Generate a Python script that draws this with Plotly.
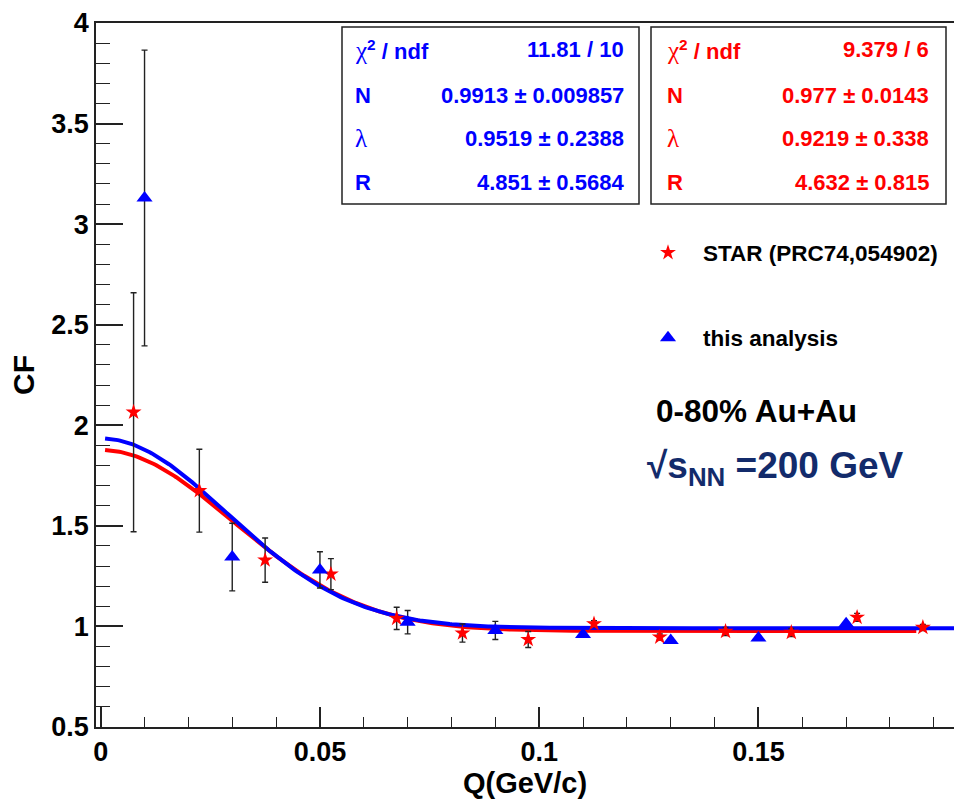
import numpy as np
import plotly.graph_objects as go

# ---- data -------------------------------------------------------------
# STAR (PRC74,054902)
star_q = [0.0075, 0.0225, 0.0375, 0.0525, 0.0675, 0.0825, 0.0975,
          0.1125, 0.1275, 0.1425, 0.1575, 0.1725, 0.1875]
star_cf = [2.065, 1.675, 1.330, 1.260, 1.040, 0.967, 0.935,
           1.013, 0.947, 0.975, 0.970, 1.045, 0.995]
star_err = [0.594, 0.206, 0.110, 0.077, 0.055, 0.045, 0.040,
            0.015, 0.015, 0.020, 0.020, 0.020, 0.015]

# this analysis
ana_q = [0.01, 0.03, 0.05, 0.07, 0.09, 0.11, 0.13, 0.15, 0.17]
ana_cf = [3.13, 1.345, 1.281, 1.021, 0.980, 0.960, 0.930, 0.942, 1.013]
ana_err = [0.735, 0.168, 0.090, 0.058, 0.045, 0.010, 0.010, 0.010, 0.010]

# fit parameters: CF = N * (1 + lambda * exp(-Q^2 R^2 / (hbar c)^2))
ana_fit = dict(chi2="11.81 / 10", N=0.9913, dN="0.009857",
               lam=0.9519, dlam="0.2388", R=4.851, dR="0.5684")
star_fit = dict(chi2="9.379 / 6", N=0.977, dN="0.0143",
                lam=0.9219, dlam="0.338", R=4.632, dR="0.815")
ana_fit_range = (0.001, 0.1946)
star_fit_range = (0.001, 0.186)

x_ticks = [0, 0.05, 0.1, 0.15]
x_ticktext = ["0", "0.05", "0.1", "0.15"]
y_ticks = [0.5, 1, 1.5, 2, 2.5, 3, 3.5, 4]
y_ticktext = ["0.5", "1", "1.5", "2", "2.5", "3", "3.5", "4"]

HBARC = 0.19733  # GeV fm

RED = "#ff0000"
BLUE = "#0000ff"
NAVY = "#132b6b"
FONT = "Liberation Sans, Arial, sans-serif"
SERIF = "Liberation Serif, Times New Roman, serif"


def cf_fit(q, p):
    q = np.asarray(q)
    return p["N"] * (1 + p["lam"] * np.exp(-(q * p["R"] / HBARC) ** 2))


# ---- frame geometry (pixels) -----------------------------------------
W, H = 954, 799
L, T, B = 96, 23, 727


def px(x):
    return (x - L) / (W - L)


def py(y):
    return (B - y) / (B - T)


fig = go.Figure()

# fit curves
for p, rng, col in [(star_fit, star_fit_range, RED), (ana_fit, ana_fit_range, BLUE)]:
    qq = np.linspace(rng[0], rng[1], 400)
    fig.add_trace(go.Scatter(x=qq, y=cf_fit(qq, p), mode="lines",
                             line=dict(color=col, width=4),
                             showlegend=False, hoverinfo="skip"))

# data points
fig.add_trace(go.Scatter(
    x=star_q, y=star_cf, mode="markers", name="STAR (PRC74,054902)",
    marker=dict(symbol="star", size=12, color=RED, line=dict(width=0)),
    error_y=dict(type="data", array=star_err, color="#222222", thickness=1.4, width=3),
    legend="legend"))
fig.add_trace(go.Scatter(
    x=ana_q, y=ana_cf, mode="markers", name="this analysis",
    marker=dict(symbol="triangle-up", size=14, color=BLUE, line=dict(width=0)),
    error_y=dict(type="data", array=ana_err, color="#222222", thickness=1.4, width=3),
    legend="legend2"))

# ---- fit statistics boxes --------------------------------------------
shapes = []
annotations = []


def stat_box(p, col, x0, x1, xl, xr):
    shapes.append(dict(type="rect", xref="paper", yref="paper",
                       x0=px(x0), x1=px(x1), y0=py(204), y1=py(27),
                       line=dict(color="#222222", width=1.5), fillcolor="white",
                       layer="above"))
    rows = [
        (f"<span style='font-family:{SERIF};font-size:25px'>χ</span><b><sup>2</sup> / ndf</b>",
         f"<b>{p['chi2']}</b>"),
        ("<b>N</b>", f"<b>{p['N']:g} ± {p['dN']}</b>"),
        (f"<span style='font-family:{SERIF};font-size:25px'>λ</span>",
         f"<b>{p['lam']:g} ± {p['dlam']}</b>"),
        ("<b>R</b>", f"<b>{p['R']:g} ± {p['dR']}</b>"),
    ]
    for (lt, rt), yy in zip(rows, [50, 95, 138, 182]):
        annotations.append(dict(xref="paper", yref="paper", x=px(xl), y=py(yy),
                                text=lt, showarrow=False, xanchor="left",
                                yanchor="middle",
                                font=dict(family=FONT, size=22, color=col)))
        annotations.append(dict(xref="paper", yref="paper", x=px(xr), y=py(yy),
                                text=rt, showarrow=False, xanchor="right",
                                yanchor="middle",
                                font=dict(family=FONT, size=22, color=col)))


stat_box(ana_fit, BLUE, 342, 639, 353, 626)
stat_box(star_fit, RED, 651, 946, 665, 931)

annotations.append(dict(xref="paper", yref="paper", x=px(654), y=py(411),
                        text="<b>0-80% Au+Au</b>", showarrow=False,
                        xanchor="left", yanchor="middle",
                        font=dict(family=FONT, size=31.5, color="black")))
annotations.append(dict(xref="paper", yref="paper", x=px(645), y=py(468),
                        text="<b>√s<sub>NN</sub> =200 GeV</b>", showarrow=False,
                        xanchor="left", yanchor="middle",
                        font=dict(family=FONT, size=37, color=NAVY)))

axis_common = dict(showgrid=False, zeroline=False, showline=True,
                   linecolor="#222222", linewidth=1.5, ticks="inside",
                   tickcolor="#222222", tickwidth=1.5,
                   tickfont=dict(family=FONT, size=27, color="black", weight="bold"))

fig.update_layout(
    width=W, height=H,
    margin=dict(l=L, r=0, t=T, b=H - B, pad=0),
    paper_bgcolor="white", plot_bgcolor="white",
    shapes=shapes, annotations=annotations,
    xaxis=dict(range=[-0.00107, 0.1946], tickvals=x_ticks, ticktext=x_ticktext,
               ticklen=20, mirror=True,
               minor=dict(dtick=0.01, tick0=0, ticklen=10, ticks="inside",
                          tickcolor="#222222", tickwidth=1.2),
               title=dict(text="Q(GeV/c)", standoff=5,
                          font=dict(family=FONT, size=29, color="black", weight="bold")),
               **axis_common),
    yaxis=dict(range=[0.5, 4], tickvals=y_ticks, ticktext=y_ticktext,
               ticklen=27,
               minor=dict(dtick=0.1, tick0=0.5, ticklen=14, ticks="inside",
                          tickcolor="#222222", tickwidth=1.2),
               title=dict(text="CF", standoff=8,
                          font=dict(family=FONT, size=30, color="black", weight="bold")),
               **axis_common),
    legend=dict(x=px(633), y=py(253), xanchor="left", yanchor="middle",
                bgcolor="rgba(0,0,0,0)", borderwidth=0, itemwidth=60,
                font=dict(family=FONT, size=22.5, color="black", weight="bold")),
    legend2=dict(x=px(633), y=py(338), xanchor="left", yanchor="middle",
                 bgcolor="rgba(0,0,0,0)", borderwidth=0, itemwidth=60,
                 font=dict(family=FONT, size=22.5, color="black", weight="bold")),
)

fig.write_html("out.html")
